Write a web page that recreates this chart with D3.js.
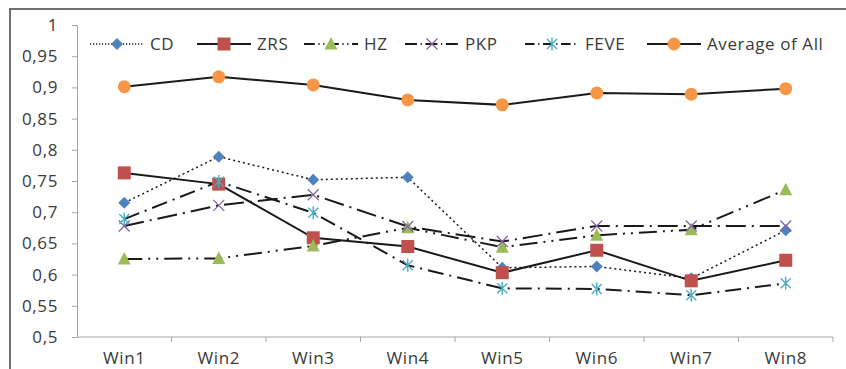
<!DOCTYPE html>
<html>
<head>
<meta charset="utf-8">
<script src="https://cdn.jsdelivr.net/npm/d3@7"></script>
<style>
  body { margin: 0; background: #fff; }
  svg text { font-family: "Open Sans", sans-serif; fill: #3a3a3a; letter-spacing: 0.6px; }
</style>
</head>
<body>
<svg id="chart" width="846" height="369"></svg>
<script>
// data
const windows = ['Win1', 'Win2', 'Win3', 'Win4', 'Win5', 'Win6', 'Win7', 'Win8'];
const cd      = [0.715, 0.789, 0.752, 0.756, 0.611, 0.613, 0.594, 0.671];
const zrs     = [0.763, 0.745, 0.659, 0.645, 0.603, 0.639, 0.590, 0.623];
const hz      = [0.625, 0.626, 0.646, 0.675, 0.644, 0.663, 0.672, 0.736];
const pkp     = [0.678, 0.711, 0.728, 0.677, 0.653, 0.678, 0.678, 0.678];
const feve    = [0.689, 0.749, 0.699, 0.615, 0.578, 0.577, 0.567, 0.586];
const average = [0.901, 0.917, 0.904, 0.880, 0.872, 0.891, 0.889, 0.898];
const yTicks  = [0.5, 0.55, 0.6, 0.65, 0.7, 0.75, 0.8, 0.85, 0.9, 0.95, 1];

const series = [
  { name: 'CD',  values: cd,  marker: 'diamond',  color: '#4f81bd', dash: '2,3', width: 1.5 },
  { name: 'ZRS', values: zrs, marker: 'square',   color: '#c0504d', dash: null,  width: 2 },
  { name: 'HZ',  values: hz,  marker: 'triangle', color: '#9bbb59', dash: '18,6,2,6,2,6', width: 2 },
  { name: 'PKP', values: pkp, marker: 'cross',    color: '#8064a2', dash: '20,6,2,6', width: 2 },
  { name: 'FEVE', values: feve, marker: 'star',   color: '#4bacc6', dash: '16,6,2,6', width: 2 },
  { name: 'Average of All', values: average, marker: 'circle', color: '#f79646', dash: null, width: 2 }
];

const margin = { top: 25, right: 13, bottom: 32, left: 77 };
const width = 846, height = 369;

const svg = d3.select('#chart');

// outer frame
svg.append('rect')
  .attr('x', 10).attr('y', 9)
  .attr('width', width).attr('height', height)
  .attr('fill', 'none')
  .attr('stroke', '#707070')
  .attr('stroke-width', 2);

const x = d3.scaleBand()
  .domain(windows)
  .range([margin.left, width - margin.right]);

const y = d3.scaleLinear()
  .domain([0.5, 1])
  .range([height - margin.bottom, margin.top]);

const fmt = d => d3.format('.2~f')(d).replace('.', ',');

// y axis
const yAxis = svg.append('g')
  .attr('transform', `translate(${margin.left},0)`)
  .call(d3.axisLeft(y).tickValues(yTicks).tickFormat(fmt).tickSize(5).tickPadding(14));
yAxis.selectAll('path, line').attr('stroke', '#a6a6a6');
yAxis.selectAll('text').style('font-size', '17px').attr('fill', '#3a3a3a');

// x axis, ticks between categories
const xAxis = svg.append('g')
  .attr('transform', `translate(0,${y(0.5)})`)
  .call(d3.axisBottom(x).tickSize(0).tickPadding(15));
xAxis.select('.domain').attr('stroke', '#a6a6a6').attr('d', `M${margin.left},0H${width - margin.right}`);
xAxis.selectAll('text').style('font-size', '17px').attr('fill', '#3a3a3a');
xAxis.selectAll('.sep')
  .data(windows)
  .enter().append('line')
  .attr('class', 'sep')
  .attr('x1', d => x(d) + x.bandwidth()).attr('x2', d => x(d) + x.bandwidth())
  .attr('y1', 0).attr('y2', 5)
  .attr('stroke', '#a6a6a6');

function drawMarker(g, type, color) {
  if (type === 'diamond') {
    g.append('path').attr('d', 'M0,-6L6,0L0,6L-6,0Z').attr('fill', color);
  } else if (type === 'square') {
    g.append('rect').attr('x', -6.5).attr('y', -6.5).attr('width', 13).attr('height', 13).attr('fill', color);
  } else if (type === 'triangle') {
    g.append('path').attr('d', 'M0,-7L6.5,5.5L-6.5,5.5Z').attr('fill', color);
  } else if (type === 'cross') {
    g.append('path').attr('d', 'M-5.5,-5.5L5.5,5.5M5.5,-5.5L-5.5,5.5').attr('stroke', color).attr('stroke-width', 1.3);
  } else if (type === 'star') {
    g.append('path').attr('d', 'M-5,-5L5,5M5,-5L-5,5M0,-6.5V6.5').attr('stroke', color).attr('stroke-width', 1.4);
  } else if (type === 'circle') {
    g.append('circle').attr('r', 6.5).attr('fill', color);
  }
}

const line = d3.line()
  .x((d, i) => x(windows[i]) + x.bandwidth() / 2)
  .y(d => y(d));

series.forEach(s => {
  svg.append('path')
    .datum(s.values)
    .attr('d', line)
    .attr('fill', 'none')
    .attr('stroke', '#1a1a1a')
    .attr('stroke-width', s.width)
    .attr('stroke-dasharray', s.dash);
});

series.forEach(s => {
  s.values.forEach((v, i) => {
    const g = svg.append('g')
      .attr('transform', `translate(${x(windows[i]) + x.bandwidth() / 2},${y(v)})`);
    drawMarker(g, s.marker, s.color);
  });
});

// legend
const legendX = [90, 197, 304, 405, 525, 647];
const legendY = 44;
series.forEach((s, i) => {
  const g = svg.append('g').attr('transform', `translate(${legendX[i]},${legendY})`);
  g.append('line')
    .attr('x1', 0).attr('x2', 54)
    .attr('stroke', '#1a1a1a')
    .attr('stroke-width', s.width)
    .attr('stroke-dasharray', s.dash ? s.dash.split(',').map(n => +n * 0.6).join(',') : null);
  const m = g.append('g').attr('transform', 'translate(27,0)');
  drawMarker(m, s.marker, s.color);
  g.append('text')
    .attr('x', 60)
    .attr('dy', '0.35em')
    .style('font-size', '17px')
    .text(s.name);
});
</script>
</body>
</html>
